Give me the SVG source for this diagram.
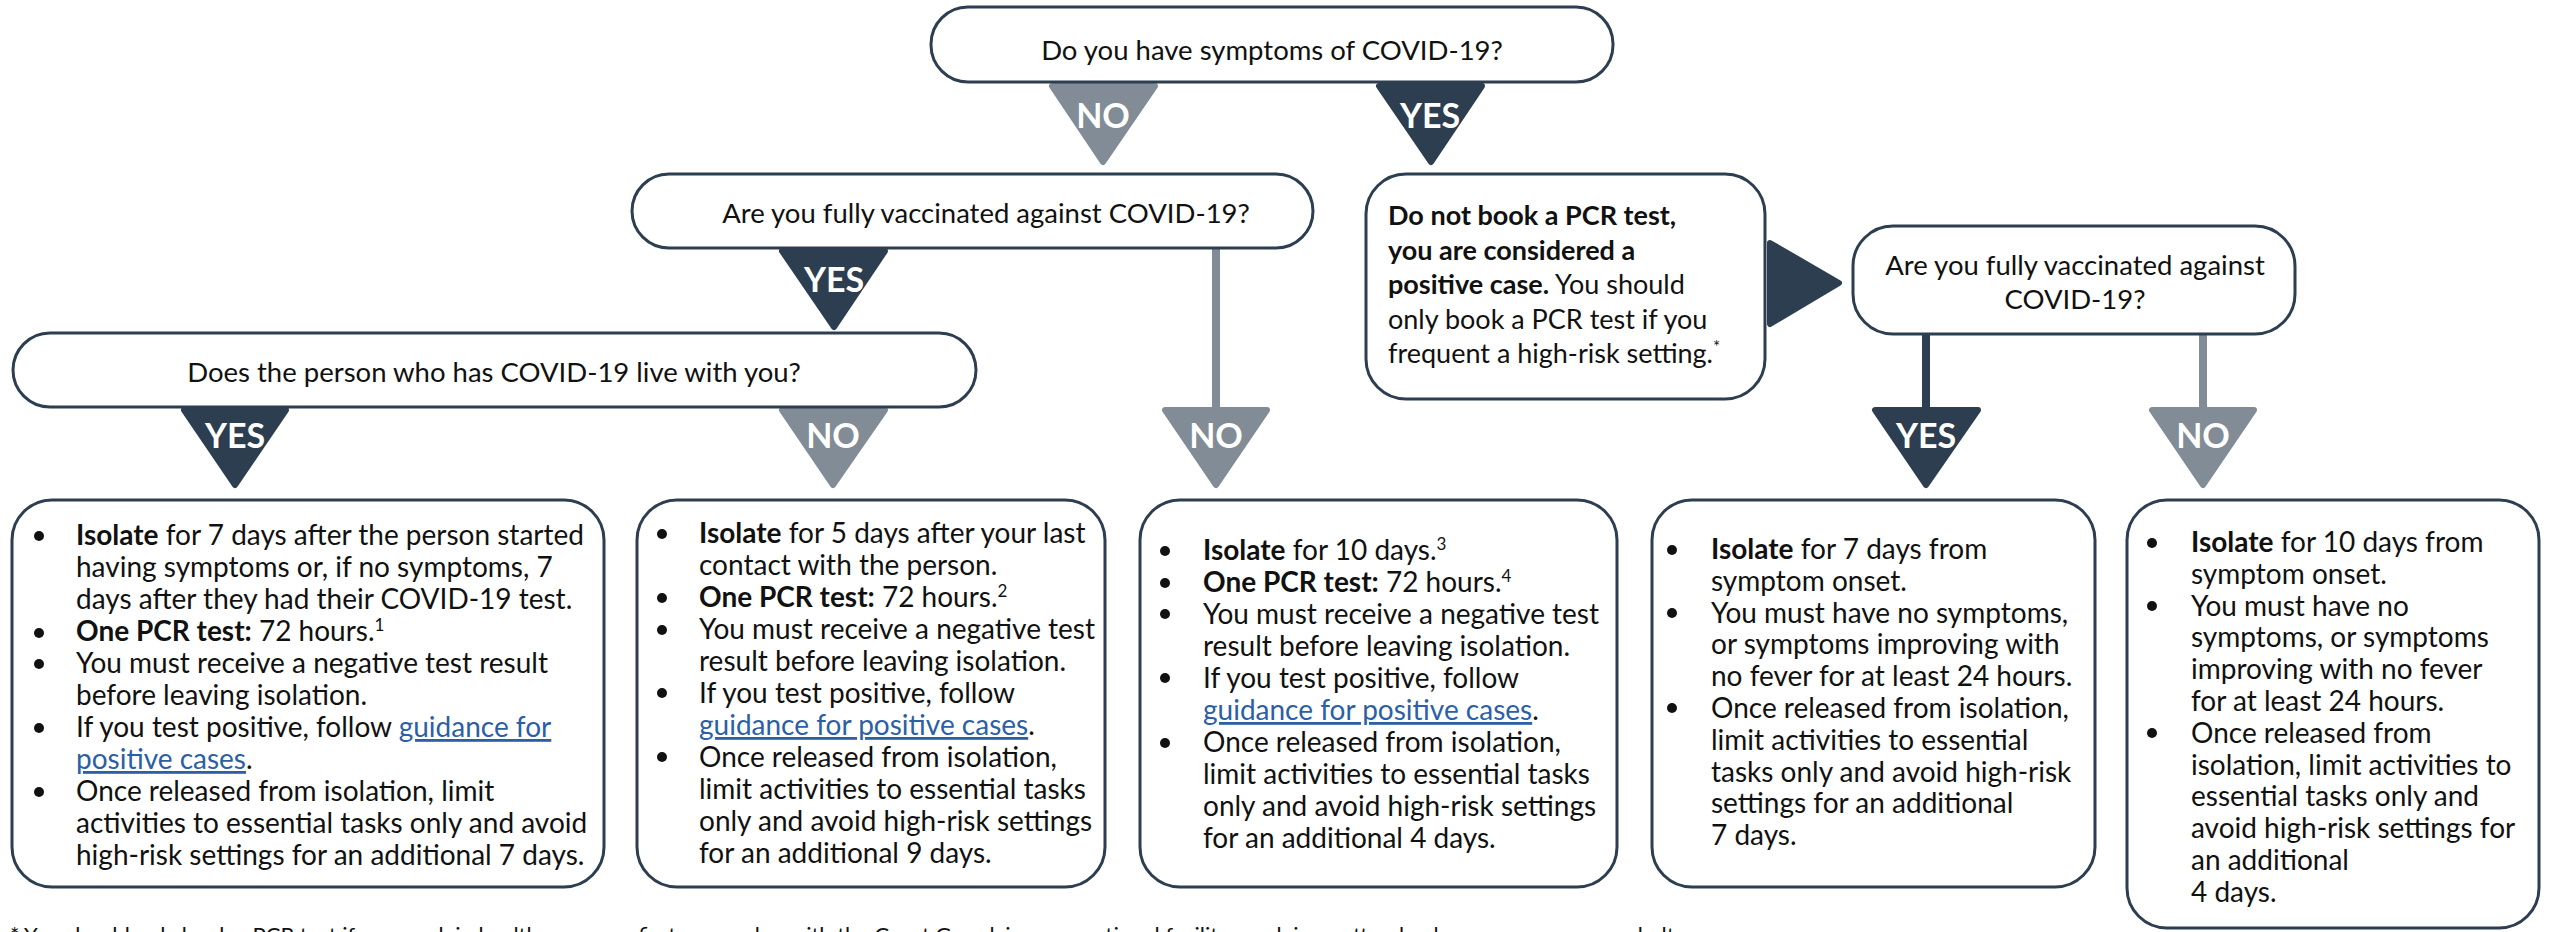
<svg xmlns="http://www.w3.org/2000/svg" width="2554" height="932" viewBox="0 0 2554 932">
<style>
.box{fill:#fff;stroke:#2d3e50;stroke-width:3}
.q{font-family:Lato,"Liberation Sans",sans-serif;font-size:27.5px;fill:#111;text-anchor:middle}
.t{font-family:Lato,"Liberation Sans",sans-serif;font-size:28px;fill:#111}
.p{font-family:Lato,"Liberation Sans",sans-serif;font-size:27px;fill:#111}
.b{font-weight:bold}
.lnk{fill:#2b5fa6;text-decoration:underline}
.sup{font-size:17px}
.dk{fill:#2d3e50;stroke:#2d3e50;stroke-width:6;stroke-linejoin:round}
.gr{fill:#828c96;stroke:#828c96;stroke-width:6;stroke-linejoin:round}
.lbl{font-family:Lato,"Liberation Sans",sans-serif;font-weight:bold;font-size:34px;fill:#fff;text-anchor:middle}
.ld{stroke:#2d3e50;stroke-width:8}
.lg{stroke:#828c96;stroke-width:8}
.bul{fill:#111}
.foot{font-family:Lato,"Liberation Sans",sans-serif;font-size:22px;fill:#111}
</style>

<g id="connectors">
<line class="lg" x1="1216" y1="248" x2="1216" y2="412"/>
<line class="ld" x1="1926" y1="334" x2="1926" y2="412"/>
<line class="lg" x1="2203" y1="334" x2="2203" y2="412"/>
<g id="t1"><polygon class="gr" points="1052,86 1155,86 1103,162"/><text class="lbl" x="1103" y="128">NO</text></g>
<g id="t2"><polygon class="dk" points="1379,86 1482,86 1431,162"/><text class="lbl" x="1430" y="128">YES</text></g>
<g id="t3"><polygon class="dk" points="782,251 885,251 834,327"/><text class="lbl" x="834" y="292">YES</text></g>
<g id="t4"><polygon class="dk" points="184,410 286,410 235,485"/><text class="lbl" x="235" y="448">YES</text></g>
<g id="t5"><polygon class="gr" points="782,410 885,410 833,485"/><text class="lbl" x="833" y="448">NO</text></g>
<g id="t6"><polygon class="gr" points="1165,410 1267,410 1216,485"/><text class="lbl" x="1216" y="448">NO</text></g>
<g id="t7"><polygon class="dk" points="1875,410 1978,410 1926,485"/><text class="lbl" x="1926" y="448">YES</text></g>
<g id="t8"><polygon class="gr" points="2152,410 2254,410 2203,485"/><text class="lbl" x="2203" y="448">NO</text></g>
<polygon class="dk" points="1770,243 1839,283 1770,324"/>
</g>

<g id="q1">
<rect class="box" x="931" y="7" width="682" height="75" rx="37"/>
<text class="q" x="1272" y="60">Do you have symptoms of COVID-19?</text>
</g>

<g id="q2">
<rect class="box" x="632" y="174" width="681" height="74" rx="37"/>
<text class="q" x="986" y="223">Are you fully vaccinated against COVID-19?</text>
</g>

<g id="q3">
<rect class="box" x="13" y="333" width="963" height="74" rx="37"/>
<text class="q" x="494" y="382">Does the person who has COVID-19 live with you?</text>
</g>

<g id="positive">
<rect class="box" x="1366" y="174" width="399" height="225" rx="40"/>
<text class="p" x="1388" y="225"><tspan class="b">Do not book a PCR test,</tspan><tspan x="1388" dy="34.5" class="b">you are considered a</tspan><tspan x="1388" dy="34.5"><tspan class="b">positive case.</tspan> You should</tspan><tspan x="1388" dy="34.5">only book a PCR test if you</tspan><tspan x="1388" dy="34.5">frequent a high-risk setting.<tspan class="sup" dy="-10">*</tspan></tspan></text>
</g>

<g id="q4">
<rect class="box" x="1853" y="226" width="442" height="108" rx="40"/>
<text class="q" x="2075" y="275">Are you fully vaccinated against<tspan x="2075" dy="34">COVID-19?</tspan></text>
</g>

<g id="r1">
<rect class="box" x="12" y="500" width="592" height="387" rx="40"/>
<circle class="bul" cx="39" cy="536" r="5"/><circle class="bul" cx="39" cy="633" r="5"/><circle class="bul" cx="39" cy="664" r="5"/><circle class="bul" cx="39" cy="728" r="5"/><circle class="bul" cx="39" cy="792" r="5"/>
<text class="t" x="76" y="545"><tspan class="b">Isolate</tspan> for 7 days after the person started<tspan x="76" dy="32">having symptoms or, if no symptoms, 7</tspan><tspan x="76" dy="32">days after they had their COVID-19 test.</tspan><tspan x="76" dy="32"><tspan class="b">One PCR test:</tspan> 72 hours.<tspan class="sup" dy="-10">1</tspan></tspan><tspan x="76" dy="42">You must receive a negative test result</tspan><tspan x="76" dy="32">before leaving isolation.</tspan><tspan x="76" dy="32">If you test positive, follow <tspan class="lnk">guidance for</tspan></tspan><tspan x="76" dy="32" class="lnk">positive cases</tspan><tspan>.</tspan><tspan x="76" dy="32">Once released from isolation, limit</tspan><tspan x="76" dy="32">activities to essential tasks only and avoid</tspan><tspan x="76" dy="32">high-risk settings for an additional 7 days.</tspan></text>
</g>

<g id="r2">
<rect class="box" x="637" y="500" width="468" height="387" rx="40"/>
<circle class="bul" cx="662" cy="534" r="5"/><circle class="bul" cx="662" cy="598" r="5"/><circle class="bul" cx="662" cy="630" r="5"/><circle class="bul" cx="662" cy="693" r="5"/><circle class="bul" cx="662" cy="757" r="5"/>
<text class="t" x="699" y="543"><tspan class="b">Isolate</tspan> for 5 days after your last<tspan x="699" dy="32">contact with the person.</tspan><tspan x="699" dy="32"><tspan class="b">One PCR test:</tspan> 72 hours.<tspan class="sup" dy="-10">2</tspan></tspan><tspan x="699" dy="42">You must receive a negative test</tspan><tspan x="699" dy="32">result before leaving isolation.</tspan><tspan x="699" dy="32">If you test positive, follow</tspan><tspan x="699" dy="32" class="lnk">guidance for positive cases</tspan><tspan>.</tspan><tspan x="699" dy="32">Once released from isolation,</tspan><tspan x="699" dy="32">limit activities to essential tasks</tspan><tspan x="699" dy="32">only and avoid high-risk settings</tspan><tspan x="699" dy="32">for an additional 9 days.</tspan></text>
</g>

<g id="r3">
<rect class="box" x="1140" y="500" width="477" height="387" rx="40"/>
<circle class="bul" cx="1165" cy="551" r="5"/><circle class="bul" cx="1165" cy="583" r="5"/><circle class="bul" cx="1165" cy="614" r="5"/><circle class="bul" cx="1165" cy="678" r="5"/><circle class="bul" cx="1165" cy="743" r="5"/>
<text class="t" x="1203" y="560"><tspan class="b">Isolate</tspan> for 10 days.<tspan class="sup" dy="-10">3</tspan><tspan x="1203" dy="42"><tspan class="b">One PCR test:</tspan> 72 hours.<tspan class="sup" dy="-10">4</tspan></tspan><tspan x="1203" dy="42">You must receive a negative test</tspan><tspan x="1203" dy="32">result before leaving isolation.</tspan><tspan x="1203" dy="32">If you test positive, follow</tspan><tspan x="1203" dy="32" class="lnk">guidance for positive cases</tspan><tspan>.</tspan><tspan x="1203" dy="32">Once released from isolation,</tspan><tspan x="1203" dy="32">limit activities to essential tasks</tspan><tspan x="1203" dy="32">only and avoid high-risk settings</tspan><tspan x="1203" dy="32">for an additional 4 days.</tspan></text>
</g>

<g id="r4">
<rect class="box" x="1652" y="500" width="443" height="387" rx="40"/>
<circle class="bul" cx="1672" cy="550" r="5"/><circle class="bul" cx="1672" cy="613" r="5"/><circle class="bul" cx="1672" cy="708" r="5"/>
<text class="t" x="1711" y="559"><tspan class="b">Isolate</tspan> for 7 days from<tspan x="1711" dy="31.8">symptom onset.</tspan><tspan x="1711" dy="31.8">You must have no symptoms,</tspan><tspan x="1711" dy="31.8">or symptoms improving with</tspan><tspan x="1711" dy="31.8">no fever for at least 24 hours.</tspan><tspan x="1711" dy="31.8">Once released from isolation,</tspan><tspan x="1711" dy="31.8">limit activities to essential</tspan><tspan x="1711" dy="31.8">tasks only and avoid high-risk</tspan><tspan x="1711" dy="31.8">settings for an additional</tspan><tspan x="1711" dy="31.8">7 days.</tspan></text>
</g>

<g id="r5">
<rect class="box" x="2127" y="500" width="412" height="428" rx="40"/>
<circle class="bul" cx="2152" cy="543" r="5"/><circle class="bul" cx="2152" cy="606" r="5"/><circle class="bul" cx="2152" cy="733" r="5"/>
<text class="t" x="2191" y="552"><tspan class="b">Isolate</tspan> for 10 days from<tspan x="2191" dy="31.8">symptom onset.</tspan><tspan x="2191" dy="31.8">You must have no</tspan><tspan x="2191" dy="31.8">symptoms, or symptoms</tspan><tspan x="2191" dy="31.8">improving with no fever</tspan><tspan x="2191" dy="31.8">for at least 24 hours.</tspan><tspan x="2191" dy="31.8">Once released from</tspan><tspan x="2191" dy="31.8">isolation, limit activities to</tspan><tspan x="2191" dy="31.8">essential tasks only and</tspan><tspan x="2191" dy="31.8">avoid high-risk settings for</tspan><tspan x="2191" dy="31.8">an additional</tspan><tspan x="2191" dy="31.8">4 days.</tspan></text>
</g>

<text class="foot" x="10" y="943">*  You should only book a PCR test if you work in health care, as a first responder, with the Coast Guard, in a correctional facility, work in or attend a day care, emergency shelter</text>
</svg>
